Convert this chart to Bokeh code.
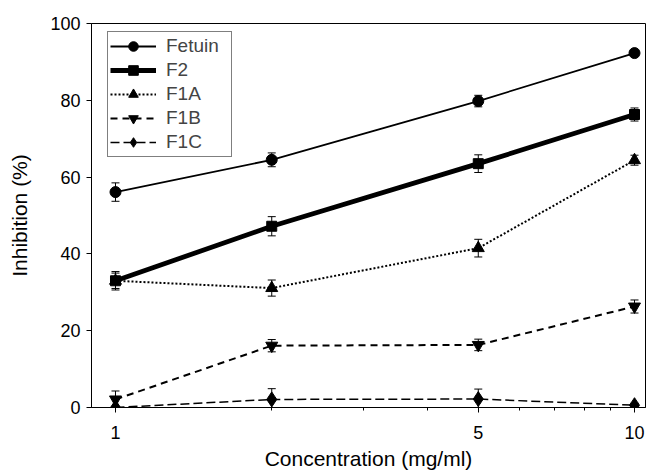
from bokeh.plotting import figure
from bokeh.models import ColumnDataSource, Whisker, FixedTicker, Range1d, PrintfTickFormatter, TeeHead
from bokeh.embed import file_html
from bokeh.resources import INLINE

conc = [1, 2, 5, 10]
fetuin = [56.1, 64.5, 79.8, 92.3]
fetuin_err = [2.4, 1.8, 1.5, 0.6]
f2 = [33.0, 47.2, 63.5, 76.3]
f2_err = [2.4, 2.5, 2.3, 1.7]
f1a = [33.0, 31.1, 41.5, 64.4]
f1a_err = [2.0, 2.1, 2.3, 1.3]
f1b = [2.1, 16.1, 16.3, 26.3]
f1b_err = [2.2, 1.6, 1.5, 1.7]
f1c = [0.0, 2.1, 2.2, 0.6]
f1c_err = [0.3, 2.8, 2.6, 0.5]

x_ticks = [1, 5, 10]
x_minor = [2, 3, 4, 6, 7, 8, 9]
y_ticks = [0, 20, 40, 60, 80, 100]

FONT = "Liberation Sans"

p = figure(width=646, height=472, x_axis_type="log",
           x_range=Range1d(0.899, 10.5), y_range=Range1d(0, 100),
           output_backend="svg", toolbar_location=None,
           min_border_left=91, min_border_right=1, min_border_top=23, min_border_bottom=64)
p.grid.visible = False
p.outline_line_color = "black"
p.outline_line_width = 1
p.background_fill_color = "white"
p.border_fill_color = "white"

series = [
    ("Fetuin", fetuin, fetuin_err, "circle", 11, 1.8, "solid"),
    ("F2", f2, f2_err, "square", 10, 4.8, "solid"),
    ("F1A", f1a, f1a_err, "triangle", 12, 2, "2 2"),
    ("F1B", f1b, f1b_err, "inverted_triangle", 12, 2, "7 5"),
    ("F1C", f1c, f1c_err, "diamond", 15, 1.5, "9 4"),
]

for name, ys, errs, marker, size, lw, dash in series:
    src = ColumnDataSource(dict(x=conc, y=ys,
                                upper=[v + e for v, e in zip(ys, errs)],
                                lower=[v - e for v, e in zip(ys, errs)]))
    w = Whisker(source=src, base="x", upper="upper", lower="lower",
                line_color="black", line_width=1,
                upper_head=TeeHead(size=8, line_color="black", line_width=1),
                lower_head=TeeHead(size=8, line_color="black", line_width=1))
    p.add_layout(w)
    p.line("x", "y", source=src, line_color="black", line_width=lw,
           line_dash=dash, legend_label=name)
    p.scatter("x", "y", source=src, marker=marker, size=size,
              fill_color="black", line_color="black", legend_label=name)

xa = p.xaxis[0]
xa.ticker = FixedTicker(ticks=x_ticks, minor_ticks=x_minor)
xa.formatter = PrintfTickFormatter(format="%d")
xa.axis_label = "Concentration (mg/ml)"
ya = p.yaxis[0]
ya.ticker = FixedTicker(ticks=y_ticks)
ya.axis_label = "Inhibition (%)"

for ax in (xa, ya):
    ax.axis_line_color = "black"
    ax.major_tick_line_color = "black"
    ax.minor_tick_line_color = "black"
    ax.major_tick_out = 5
    ax.major_tick_in = 0
    ax.minor_tick_out = 3
    ax.minor_tick_in = 0
    ax.major_label_text_font = FONT
    ax.major_label_text_font_size = "18px"
    ax.major_label_text_color = "black"
    ax.axis_label_text_font = FONT
    ax.axis_label_text_font_size = "21px"
    ax.axis_label_text_font_style = "normal"
    ax.axis_label_text_color = "black"
ya.minor_tick_line_color = None
xa.major_label_standoff = 13
xa.axis_label_standoff = 5
ya.major_label_standoff = 6
ya.axis_label_standoff = 16

lg = p.legend[0]
lg.location = (16, 250)
lg.margin = 0
lg.padding = 2
lg.spacing = 0
lg.glyph_width = 46
lg.glyph_height = 24
lg.label_height = 24
lg.label_width = 63
lg.label_standoff = 10
lg.label_text_font = FONT
lg.label_text_font_size = "19px"
lg.border_line_color = "black"
lg.border_line_width = 1
lg.background_fill_alpha = 1

open("out.html", "w").write(file_html(p, INLINE))
